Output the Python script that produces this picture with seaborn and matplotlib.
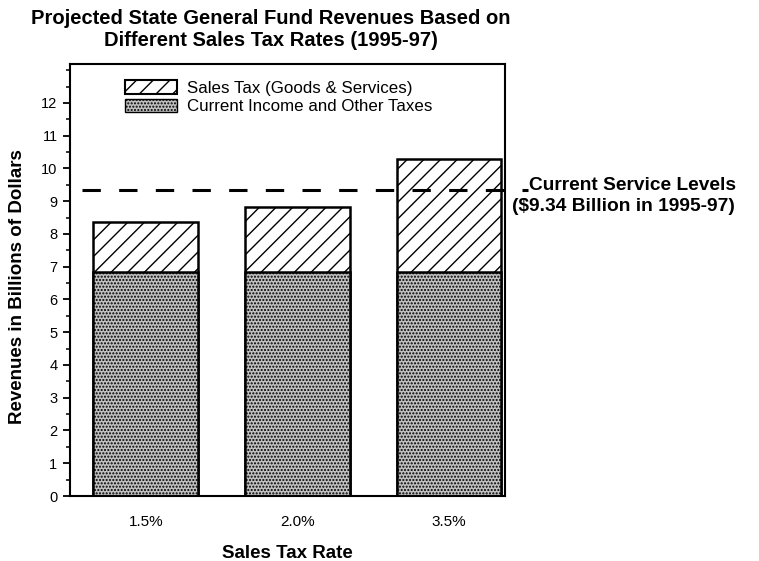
import matplotlib
matplotlib.use("Agg")
import matplotlib.pyplot as plt
import seaborn as sns
import pandas as pd
from matplotlib.patches import Patch
from matplotlib.ticker import MultipleLocator, FixedLocator

# Projected revenues (billions of dollars), 1995-97
rates = ["1.5%", "2.0%", "3.5%"]
income_other = [6.83, 6.83, 6.83]
sales_tax = [1.53, 1.98, 3.45]
service_level = 9.34
y_ticks = list(range(0, 13))

sns.set_theme(style="ticks")
plt.rcParams["font.family"] = ["Liberation Sans", "DejaVu Sans"]
plt.rcParams["hatch.linewidth"] = 1.0
plt.rcParams["text.color"] = "black"
plt.rcParams["axes.labelcolor"] = "black"

df = pd.DataFrame({
    "rate": rates,
    "income": income_other,
    "total": [a + b for a, b in zip(income_other, sales_tax)],
})

fig = plt.figure(figsize=(7.59, 5.61), dpi=100)
ax = fig.add_axes([70 / 759, 65 / 561, 435 / 759, 432 / 561])

bar_kw = dict(width=0.69, linewidth=1.8, edgecolor="black", saturation=1, ax=ax)
# full stack with the hatched sales-tax layer, then the stippled base on top
sns.barplot(data=df, x="rate", y="total", color="white", hatch="//", **bar_kw)
sns.barplot(data=df, x="rate", y="income", color="#c0c0c0", hatch=".....", **bar_kw)

# current service level reference line, running past the frame
ax.plot([-0.42, 2.52], [service_level, service_level], color="black", lw=2.2,
        dashes=(6, 6), clip_on=False, zorder=5)

ax.set_xlim(-0.5, 2.37)
ax.set_ylim(0, 13.19)
ax.yaxis.set_major_locator(FixedLocator(y_ticks))
ax.yaxis.set_minor_locator(MultipleLocator(0.5))
ax.tick_params(axis="y", which="major", direction="out", length=5, width=1.3,
               labelsize=10.5, colors="black", pad=4)
ax.tick_params(axis="y", which="minor", direction="out", length=3, width=1.1,
               colors="black")
ax.tick_params(axis="x", length=0, labelsize=11, pad=14, colors="black")
for s in ax.spines.values():
    s.set_visible(True)
    s.set_linewidth(1.5)
    s.set_color("black")

ax.set_xlabel("Sales Tax Rate", fontsize=13.5, fontweight="bold", labelpad=11)
ax.set_ylabel("Revenues in Billions of Dollars", fontsize=13.5, fontweight="bold")
ax.yaxis.set_label_coords(-0.102, 0.485)

handles = [
    Patch(facecolor="white", edgecolor="black", hatch="//", linewidth=1.5,
          label="Sales Tax (Goods & Services)"),
    Patch(facecolor="#c0c0c0", edgecolor="black", hatch=".....", linewidth=1.0,
          label="Current Income and Other Taxes"),
]
ax.legend(handles=handles, loc="upper left", bbox_to_anchor=(0.126, 0.962),
          frameon=False, fontsize=12.2, handlelength=3.1, handleheight=0.85,
          handletextpad=0.55, labelspacing=0.15, borderpad=0, borderaxespad=0)

fig.text(271 / 759, 1 - 29 / 561,
         "Projected State General Fund Revenues Based on\nDifferent Sales Tax Rates (1995-97)",
         ha="center", va="center", fontsize=14.5, fontweight="bold", linespacing=1.2)

fig.text(529 / 759, 1 - 185 / 561, "Current Service Levels",
         ha="left", va="center", fontsize=13.8, fontweight="bold")
fig.text(512 / 759, 1 - 207 / 561, "($9.34 Billion in 1995-97)",
         ha="left", va="center", fontsize=13.8, fontweight="bold")

fig.savefig("out.png", dpi=100)
